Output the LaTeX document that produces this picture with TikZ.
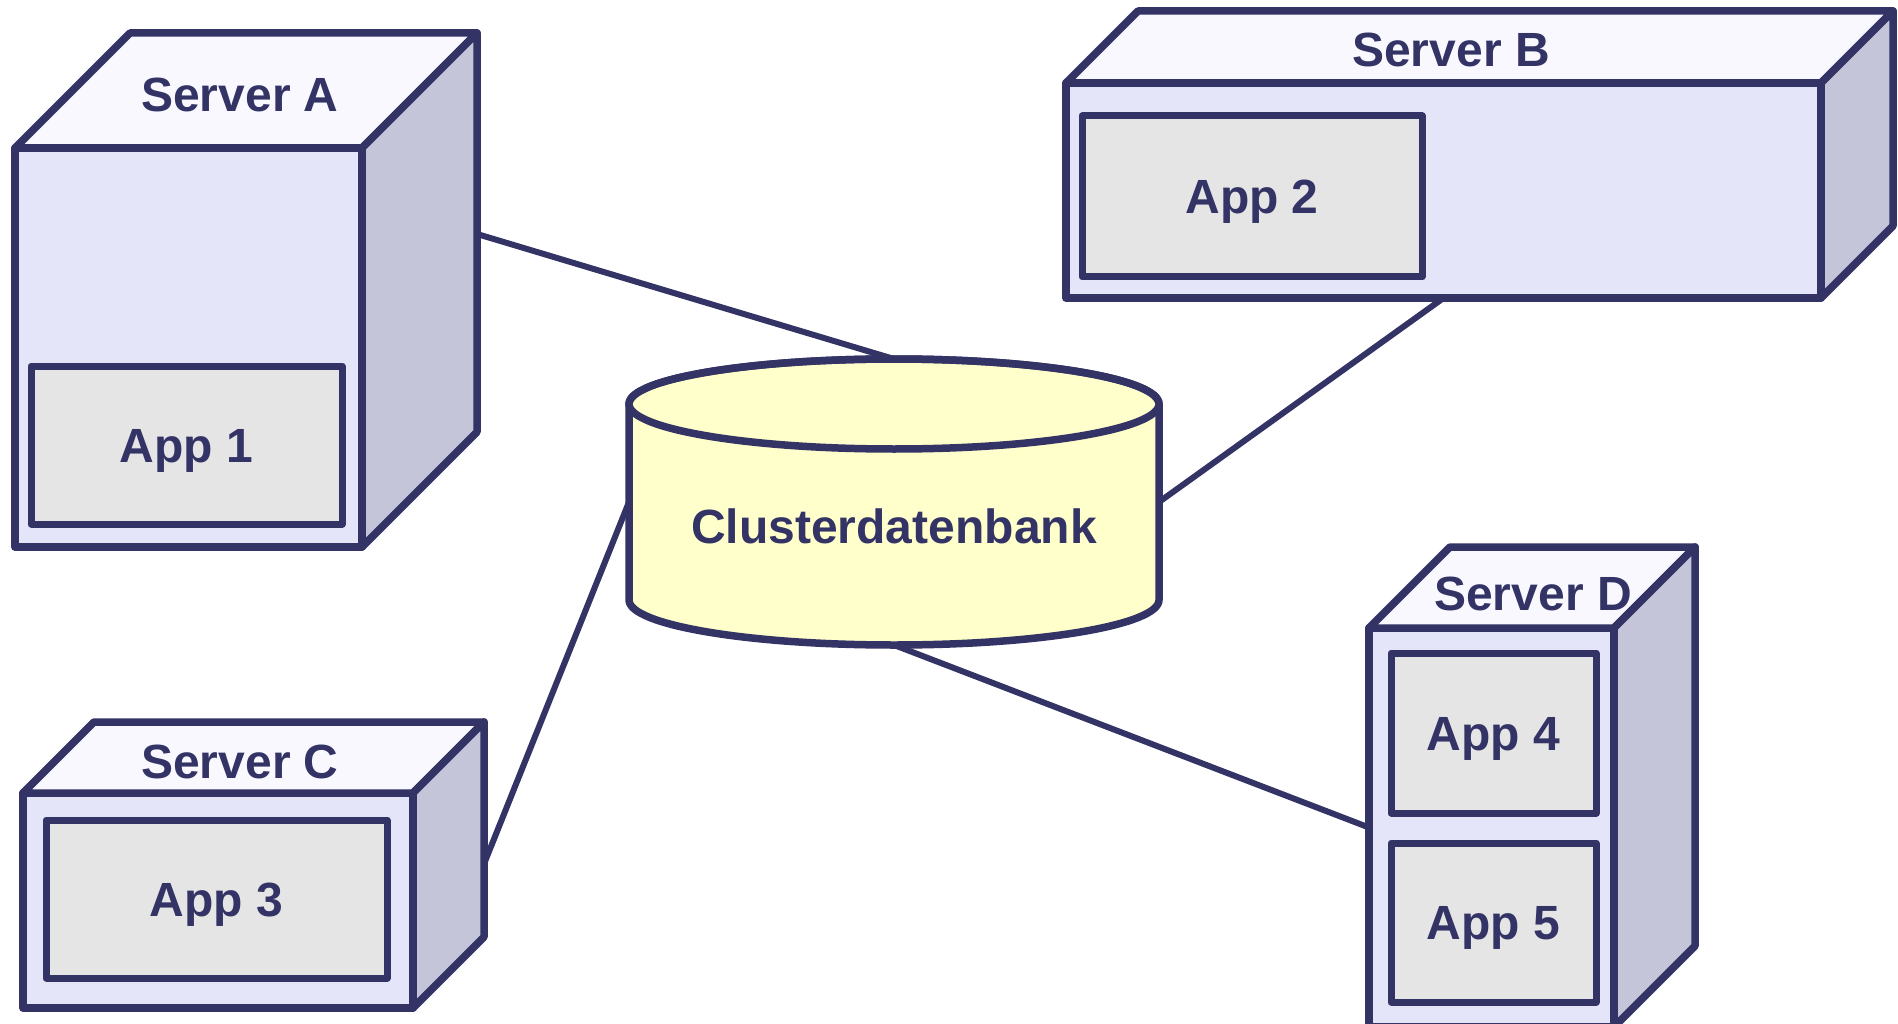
\documentclass[tikz,border=0pt]{standalone}
\usepackage{fontspec}
\setmainfont{Liberation Sans}
\usetikzlibrary{calc}
\definecolor{ink}{HTML}{333366}
\definecolor{frontc}{HTML}{E5E5FA}
\definecolor{topc}{HTML}{F8F8FE}
\definecolor{sidec}{HTML}{C5C5DA}
\definecolor{appc}{HTML}{E5E5E5}
\definecolor{dbc}{HTML}{FFFFCC}
\tikzset{
  face/.style={draw=ink, line width=7.5pt, line join=round},
  frontface/.style={face, fill=frontc, rectangle, inner sep=0pt, outer sep=0pt},
  lbl/.style={text=ink, font=\fontsize{48}{54}\selectfont\bfseries, inner sep=0pt},
  appbox/.style={face, line width=7pt, fill=appc, rectangle, inner sep=0pt, outer sep=0pt,
     text=ink, font=\fontsize{48}{54}\selectfont\bfseries, text height=34pt, text depth=0pt},
  link/.style={draw=ink, line width=6pt},
}
% #1 node name, #2 depth
\newcommand{\boxfaces}[2]{%
  \draw[face, fill=topc] (#1.north west) -- ++(#2,-#2) -- ($(#1.north east)+(#2,-#2)$) -- (#1.north east) -- cycle;
  \draw[face, fill=sidec] (#1.north east) -- ($(#1.north east)+(#2,-#2)$) -- ($(#1.south east)+(#2,-#2)$) -- (#1.south east) -- cycle;
}
\begin{document}
\begin{tikzpicture}[x=1pt, y=-1pt]
\useasboundingbox (0,0) rectangle (1898,1024);

% connection points
\coordinate (dbtop) at (894,359);
\coordinate (dbright) at (1159,502);
\coordinate (dbleft) at (629,502);
\coordinate (dbbot) at (894,645);
\coordinate (Aport) at (477,234);
\coordinate (Cport) at (484,864);

% front faces
\node[frontface, minimum width=347pt, minimum height=399pt] (A) at (188.5,347.5) {};
\node[frontface, minimum width=755pt, minimum height=215pt] (B) at (1443.5,190.5) {};
\node[frontface, minimum width=390pt, minimum height=215pt] (C) at (218,900.5) {};
\node[frontface, minimum width=245pt, minimum height=399pt] (D) at (1491.5,827.5) {};

% connectors
\draw[link] (Aport) -- (dbtop);
\draw[link] (B.south) -- (dbright);
\draw[link] (Cport) -- (dbleft);
\draw[link] (dbbot) -- (D.west);

% 3d faces
\boxfaces{A}{115}
\boxfaces{B}{72}
\boxfaces{C}{71}
\boxfaces{D}{81}

% server labels
\node[lbl, anchor=base] (lA) at (240,112) {Server A};
\node[lbl, anchor=base] (lB) at (1451,67) {Server B};
\node[lbl, anchor=base] (lC) at (240,778) {Server C};
\node[lbl, anchor=base] (lD) at (1533,610) {Server D};

% apps
\node[appbox, minimum width=311pt, minimum height=158pt] (app1) at (186.5,445) {App 1};
\node[appbox, minimum width=340pt, minimum height=161pt] (app2) at (1252,196.5) {App 2};
\node[appbox, minimum width=341pt, minimum height=158pt] (app3) at (216.5,899) {App 3};
\node[appbox, minimum width=205pt, minimum height=160pt] (app4) at (1493.5,733) {App 4};
\node[appbox, minimum width=205pt, minimum height=159pt] (app5) at (1493.5,922.5) {App 5};

% database cylinder
\draw[face, fill=dbc] (629,404) -- (629,600)
  arc[start angle=180, end angle=0, x radius=265, y radius=45]
  -- (1159,404)
  arc[start angle=0, end angle=-180, x radius=265, y radius=45] -- cycle;
\draw[face] (894,404) ellipse [x radius=265, y radius=45];
\node[lbl, anchor=base] (db) at (894,543) {Clusterdatenbank};
\end{tikzpicture}
\end{document}
